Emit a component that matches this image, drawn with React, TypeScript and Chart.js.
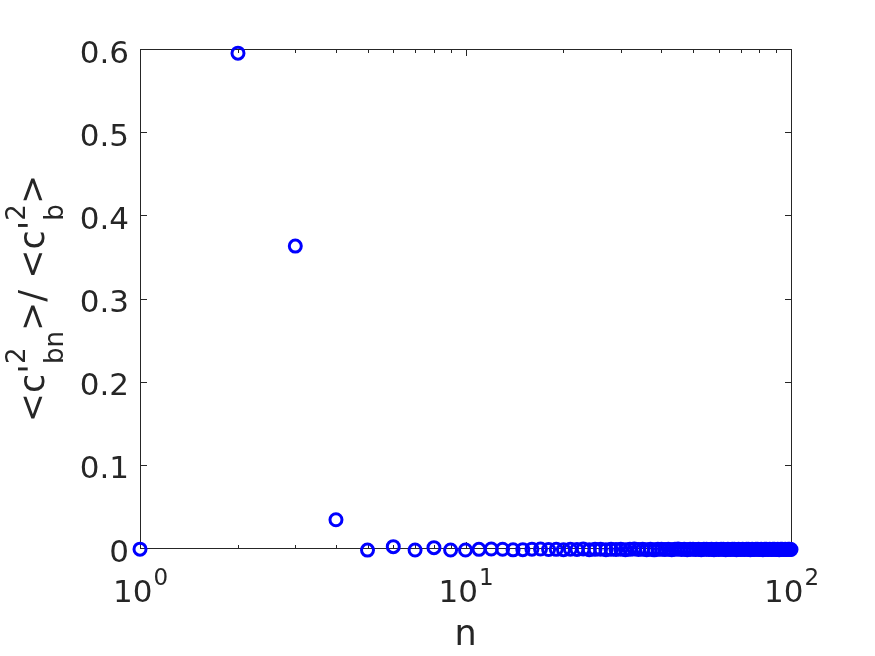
import React, { useEffect, useRef } from "react";
import { Chart, registerables } from "chart.js";

Chart.register(...registerables);

// ---- data ----
const N_VALUES: number[] = Array.from({ length: 100 }, (_, i) => i + 1);
const RATIO_VALUES: number[] = [
  -0.0014, 0.595, 0.363, 0.034, -0.0025, 0.0016, -0.0024, 0.0004, -0.0024, -0.0024,
  -0.0016, -0.0012, -0.0015, -0.0022, -0.002, -0.0014, -0.0012, -0.0018, -0.0016, -0.002,
  -0.0015, -0.0018, -0.0012, -0.002, -0.0016, -0.0014, -0.0021, -0.0016, -0.0018, -0.0014,
  -0.002, -0.0016, -0.0012, -0.0018, -0.0015, -0.002, -0.0016, -0.0022, -0.0014, -0.0016,
  -0.0018, -0.0014, -0.002, -0.0016, -0.0012, -0.0018, -0.0016, -0.002, -0.0014, -0.0016,
  -0.0018, -0.0015, -0.0021, -0.0016, -0.0014, -0.0018, -0.0016, -0.002, -0.0014, -0.0018,
  -0.0016, -0.0014, -0.002, -0.0016, -0.0018, -0.0014, -0.0016, -0.002, -0.0016, -0.0018,
  -0.0014, -0.0018, -0.0016, -0.0014, -0.002, -0.0016, -0.0018, -0.0016, -0.0014, -0.0018,
  -0.0016, -0.002, -0.0016, -0.0014, -0.0018, -0.0016, -0.0018, -0.0014, -0.0016, -0.0018,
  -0.0016, -0.002, -0.0016, -0.0016, -0.0018, -0.0014, -0.0018, -0.0016, -0.0016, -0.0018,
];

const Y_TICKS: number[] = [0, 0.1, 0.2, 0.3, 0.4, 0.5, 0.6];
const Y_TICK_LABELS: string[] = ["0", "0.1", "0.2", "0.3", "0.4", "0.5", "0.6"];
const X_MAJOR_TICKS: number[] = [1, 10, 100];
const X_TICK_BASE = "10";
const X_TICK_EXPONENTS: string[] = ["0", "1", "2"];
const X_MINOR_TICKS: number[] = [2, 3, 4, 5, 6, 7, 8, 9, 20, 30, 40, 50, 60, 70, 80, 90];
const X_LABEL = "n";
const Y_LABEL_PARTS: { main?: string; sup?: string; sub?: string }[] = [
  { main: "<c'" },
  { sup: "2", sub: "bn" },
  { main: ">/ <c'" },
  { sup: "2", sub: "b" },
  { main: ">" },
];

const FONT = "'DejaVu Sans', sans-serif";
const TEXT_COLOR = "#262626";
const MARKER_COLOR = "#0000ff";

const matlabAxes = {
  id: "matlabAxes",
  beforeDatasetsDraw(chart: any) {
    const { ctx, chartArea: a, scales } = chart;
    const xs = scales.x;
    const ys = scales.y;
    ctx.save();
    ctx.strokeStyle = TEXT_COLOR;
    ctx.lineWidth = 1;
    const L = Math.round(a.left) + 0.5;
    const R = Math.round(a.right) + 0.5;
    const T = Math.round(a.top) + 0.5;
    const B = Math.round(a.bottom) + 0.5;
    ctx.strokeRect(L, T, R - L, B - T);
    const major = 6.5;
    const minor = 3.5;
    ctx.beginPath();
    for (const v of Y_TICKS) {
      const py = Math.round(ys.getPixelForValue(v)) + 0.5;
      ctx.moveTo(L, py);
      ctx.lineTo(L + major, py);
      ctx.moveTo(R, py);
      ctx.lineTo(R - major, py);
    }
    for (const v of X_MAJOR_TICKS) {
      const px = Math.round(xs.getPixelForValue(v)) + 0.5;
      ctx.moveTo(px, B);
      ctx.lineTo(px, B - major);
      ctx.moveTo(px, T);
      ctx.lineTo(px, T + major);
    }
    for (const v of X_MINOR_TICKS) {
      const px = Math.round(xs.getPixelForValue(v)) + 0.5;
      ctx.moveTo(px, B);
      ctx.lineTo(px, B - minor);
      ctx.moveTo(px, T);
      ctx.lineTo(px, T + minor);
    }
    ctx.stroke();
    ctx.restore();
  },
  afterDraw(chart: any) {
    const { ctx, chartArea: a, scales } = chart;
    const xs = scales.x;
    const ys = scales.y;
    ctx.save();
    ctx.fillStyle = TEXT_COLOR;
    ctx.font = `31px ${FONT}`;
    ctx.textAlign = "right";
    ctx.textBaseline = "alphabetic";
    Y_TICKS.forEach((v, i) => {
      const py = ys.getPixelForValue(v);
      ctx.fillText(Y_TICK_LABELS[i], a.left - 11, py + 13.5);
    });
    ctx.textAlign = "left";
    X_MAJOR_TICKS.forEach((v, i) => {
      const px = xs.getPixelForValue(v);
      ctx.font = `31px ${FONT}`;
      const w1 = ctx.measureText(X_TICK_BASE).width;
      ctx.font = `23px ${FONT}`;
      const w2 = ctx.measureText(X_TICK_EXPONENTS[i]).width;
      const start = px - (w1 + w2) / 2;
      ctx.font = `31px ${FONT}`;
      ctx.fillText(X_TICK_BASE, start, a.bottom + 54);
      ctx.font = `23px ${FONT}`;
      ctx.fillText(X_TICK_EXPONENTS[i], start + w1 + 1, a.bottom + 37);
    });
    ctx.font = `35px ${FONT}`;
    ctx.textAlign = "center";
    ctx.fillText(X_LABEL, (a.left + a.right) / 2, a.bottom + 97);
    const mainFont = `35px ${FONT}`;
    const smallFont = `26px ${FONT}`;
    const widths = Y_LABEL_PARTS.map((p) => {
      if (p.main !== undefined) {
        ctx.font = mainFont;
        return ctx.measureText(p.main).width;
      }
      ctx.font = smallFont;
      return Math.max(ctx.measureText(p.sup || "").width, ctx.measureText(p.sub || "").width);
    });
    const total = widths.reduce((s, w) => s + w, 0);
    ctx.translate(44, (a.top + a.bottom) / 2);
    ctx.rotate(-Math.PI / 2);
    ctx.textAlign = "left";
    let xPos = -total / 2;
    Y_LABEL_PARTS.forEach((p, i) => {
      if (p.main !== undefined) {
        ctx.font = mainFont;
        ctx.fillText(p.main, xPos, 0);
      } else {
        ctx.font = smallFont;
        if (p.sup) ctx.fillText(p.sup, xPos, -19);
        if (p.sub) ctx.fillText(p.sub, xPos, 19);
      }
      xPos += widths[i];
    });
    ctx.restore();
  },
};

export default function App() {
  const ref = useRef<HTMLCanvasElement | null>(null);
  useEffect(() => {
    if (!ref.current) return;
    const chart = new Chart(ref.current, {
      type: "scatter",
      data: {
        datasets: [
          {
            data: N_VALUES.map((n, i) => ({ x: n, y: RATIO_VALUES[i] })),
            pointStyle: "circle",
            pointRadius: 6,
            pointBorderWidth: 3,
            pointBorderColor: MARKER_COLOR,
            pointBackgroundColor: "rgba(0,0,0,0)",
            showLine: false,
            clip: false as any,
          },
        ],
      },
      options: {
        responsive: false,
        animation: false,
        events: [],
        layout: { padding: { left: 140, top: 49, right: 84, bottom: 108 } },
        plugins: { legend: { display: false }, tooltip: { enabled: false } },
        scales: {
          x: { type: "logarithmic", min: 1, max: 100, display: false },
          y: { type: "linear", min: 0, max: 0.6, display: false },
        },
      },
      plugins: [matlabAxes],
    });
    return () => chart.destroy();
  }, []);
  return (
    <div style={{ position: "absolute", left: 0, top: 0, width: 875, height: 656, background: "#fff" }}>
      <canvas ref={ref} width={875} height={656} style={{ display: "block" }} />
    </div>
  );
}
